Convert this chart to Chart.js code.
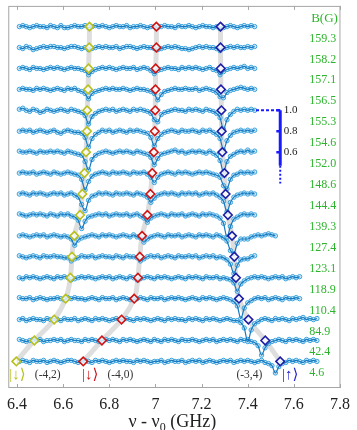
<!DOCTYPE html>
<html>
<head>
<meta charset="utf-8">
<script src="https://cdn.jsdelivr.net/npm/chart.js@4.4.1/dist/chart.umd.min.js"></script>
<style>
  html, body { margin: 0; padding: 0; background: #fff; }
  canvas { display: block; }
</style>
</head>
<body>
<canvas id="spectra" width="357" height="430"></canvas>
<script>
// Field of each spectrum, top to bottom (G)
const fieldLabels = ['159.3', '158.2', '157.1', '156.5', '155.3', '154.6', '152.0', '148.6',
  '144.4', '139.3', '127.4', '123.1', '118.9', '110.4', '84.9', '42.4', '4.6'];

// frequency grid of the measured points (GHz)
const nuStart = 6.41;
const nuStep = 0.015;

// transmission in percent, one value per grid point
const t1 = [100,101,100,99,100,101,100,100,99,101, 100,99,101,99,99,100,101,100,100,101,
  99,100,101,100,101,100,99,100,101,100, 100,101,99,100,100,101,100,99,100,100,
  99,100,101,100,100,99,101,100,100,101, 100,99,100,101,100,100,99,100,98,99,
  100,101,100,99,100,101,100,101,100];
const t2 = [100,99,101,100,98,99,100,101,100,101, 101,100,100,99,100,101,101,100,99,100,
  98,99,100,101,100,101,100,100,101,99, 100,101,101,100,99,100,101,100,100,99,
  98,99,100,101,100,101,100,99,99,98, 99,100,101,100,101,100,100,99,97,99,
  100,101,100,101,100,100,101,100,101];
const t3 = [100,101,100,99,101,100,100,99,100,101, 100,101,100,99,100,101,100,100,99,98,
  94,97,99,100,101,100,101,100,99,100, 101,100,100,101,99,100,101,100,98,95,
  98,99,100,101,100,100,99,101,100,101, 100,101,100,99,100,101,99,98,94,97,
  99,100,101,100,101,102,100,101,100];
const t4 = [100,101,100,100,99,101,100,101,100,99, 100,101,100,99,101,100,101,99,98,96,
  91,96,98,99,100,101,100,101,100,100, 101,100,99,100,101,100,100,99,98,96,
  90,95,98,99,100,101,100,100,101,100, 100,101,99,100,101,100,99,97,93,92,
  97,99,100,101,102,101,100,101,100];
const t5 = [101,102,100,99,101,100,98,99,101,100, 99,100,101,100,99,101,100,99,98,95,
  87,94,97,99,100,101,100,101,99,100, 101,100,99,101,100,101,100,99,97,91,
  89,96,98,99,100,101,100,100,99,101, 100,101,100,99,101,100,99,97,93,82,
  91,96,99,101,100,101,100,101,100];
const t6 = [100,101,100,101,99,100,101,100,99,100, 101,99,98,100,101,100,99,99,98,94,
  85,93,97,99,101,100,101,99,100,101, 100,99,101,100,101,100,99,98,94,86,
  93,97,99,100,101,100,99,101,100,100, 101,100,99,101,100,101,99,97,93,82,
  91,96,99,100,101,100,101,100,101];
const t7 = [101,100,100,101,100,99,101,100,100,101, 100,101,100,99,101,100,99,98,97,91,
  83,93,97,99,100,101,100,99,100,101, 100,101,100,99,101,100,99,98,95,88,
  94,98,99,100,101,102,100,101,99,100, 101,100,101,100,99,101,99,97,92,81,
  91,96,98,100,101,100,102,100,101];
const t8 = [100,101,100,100,101,99,100,101,100,99, 101,100,99,100,101,100,99,98,94,84,
  92,97,99,100,101,100,99,101,100,100, 101,100,99,101,100,100,101,99,96,91,
  96,99,100,101,100,99,101,100,101,100, 99,100,101,100,101,100,99,98,96,88,
  85,94,98,99,101,100,101,100,101];
const t9 = [100,101,100,99,101,100,101,100,99,100, 101,100,101,99,100,101,99,97,90,84,
  94,98,99,101,100,101,100,99,101,100, 100,101,100,99,101,100,99,97,92,96,
  99,100,101,100,101,100,99,101,100,101, 100,101,99,100,101,100,101,99,97,93,
  83,92,97,99,100,101,100,101,100];
const t10 = [101,100,99,100,101,100,101,100,99,101, 100,99,101,100,101,99,98,95,87,94,
  98,99,100,101,100,101,99,100,101,100, 100,101,99,100,101,99,97,93,97,99,
  100,101,100,99,101,100,100,101,99,100, 101,100,99,101,100,101,100,99,97,92,
  79,89,96,98,100,101,100,101,100];
const t11 = [100,101,100,99,100,101,100,101,99,100, 101,100,99,100,99,97,91,96,98,99,
  100,101,100,99,101,100,101,100,99,100, 101,100,99,101,99,98,94,97,99,100,
  101,100,99,101,100,100,101,99,100,101, 100,99,101,100,101,100,99,101,100,98,
  95,86,83,93,97,97,97,99,100,101, 100,101,102,101,100];
const t12 = [101,100,99,100,101,100,99,101,100,100, 101,100,100,99,99,96,98,99,101,100,
  100,101,99,100,101,100,100,99,101,100, 99,101,100,100,99,96,98,100,101,100,
  101,99,100,101,100,99,101,100,100,101, 100,101,99,100,101,100,101,99,100,99,
  97,93,84,92,97,98,98,100,101];
const t13 = [100,99,101,100,101,100,99,100,101,100, 99,101,100,101,100,98,99,100,101,100,
  101,100,99,100,101,100,101,99,100,101, 100,99,101,100,98,99,100,101,100,99,
  101,100,101,100,99,100,101,100,99,101, 100,101,100,99,101,100,100,101,99,100,
  99,98,95,87,94,97,99,100,101,100, 101,100,99,100,101,100,101,99,100,101,
  100,101];
const t14 = [101,100,100,101,99,100,101,100,99,100, 100,101,100,99,101,100,101,100,100,99,
  100,101,100,99,101,100,100,101,99,100, 101,100,99,99,100,101,100,99,101,100,
  100,101,99,100,101,100,101,100,99,100, 101,100,99,101,100,101,100,99,100,101,
  100,99,97,93,81,91,96,98,100,101, 100,101,99,100,101,100,99,101,100,100,
  101,100];
const t15 = [100,101,99,100,101,100,100,99,101,100, 101,100,99,101,100,100,101,99,100,101,
  100,99,101,100,101,100,99,100,101,100, 100,101,100,99,101,100,101,100,99,100,
  101,100,99,101,100,101,100,100,99,101, 100,101,100,99,101,100,101,100,99,100,
  101,100,99,99,97,92,79,90,96,98, 100,101,100,99,101,100,101,100,99,101,
  100,101,102,100,101,100,101];
const t16 = [101,100,99,100,101,100,101,99,100,100, 101,100,101,99,100,101,100,100,99,101,
  100,101,100,99,100,101,100,101,100,99, 101,100,101,100,99,100,101,100,99,101,
  100,99,101,100,101,100,99,101,100,100, 101,100,99,100,101,100,101,99,100,101,
  100,101,100,99,101,100,101,99,98,95, 86,93,97,99,100,101,100,99,101,100,
  101,100,99,101,100,101,100];
const t17 = [100,101,100,99,101,100,100,101,99,100, 101,100,99,100,101,101,100,99,100,101,
  100,99,101,100,101,100,99,100,101,100, 101,100,100,99,101,100,101,100,99,100,
  100,101,99,100,101,100,100,101,99,100, 101,100,101,99,100,101,100,99,100,101,
  100,101,99,100,101,100,101,100,99,100, 101,99,98,96,89,95,98,99,101,100,
  101,100,99,101,100,101,100];

const traces = [t1, t2, t3, t4, t5, t6, t7, t8, t9, t10, t11, t12, t13, t14, t15, t16, t17];

// resonance positions marked on each spectrum (GHz)
const yellowNu = [6.714, 6.713, 6.710, 6.708, 6.704, 6.703, 6.699, 6.692, 6.683, 6.673,
  6.648, 6.638, 6.631, 6.611, 6.561, 6.475, 6.397];
const redNu = [7.004, 7.004, 7.001, 7.000, 6.999, 6.997, 6.993, 6.986, 6.978, 6.965,
  6.942, 6.932, 6.924, 6.908, 6.853, 6.768, 6.687];
const blueNu = [7.282, 7.282, 7.283, 7.284, 7.286, 7.287, 7.290, 7.299, 7.304, 7.314,
  7.332, 7.342, 7.349, 7.362, 7.403, 7.476, 7.541];

const tickValues = [6.4, 6.6, 6.8, 7.0, 7.2, 7.4, 7.6, 7.8];
const tickLabels = ['6.4', '6.6', '6.8', '7', '7.2', '7.4', '7.6', '7.8'];
const scaleTicks = [1.0, 0.8, 0.6];
const scaleTickLabels = ['1.0', '0.8', '0.6'];

const traceGap = 0.2;
const baseline = (i) => 1 + (4 - i) * traceGap;

const YELLOW = '#b9c01c';
const RED = '#cf1515';
const NAVY = '#1e1ea6';
const BAR = '#1a1aff';
const SERIF = '"Liberation Serif", "DejaVu Serif", serif';

const datasets = [];

// grey guides through the marked resonances
[yellowNu, redNu, blueNu].forEach((nus) => {
  datasets.push({
    data: nus.map((x, i) => ({ x, y: baseline(i) })),
    borderColor: '#dedede',
    borderWidth: 5,
    pointRadius: 0,
    tension: 0.4,
    order: 5
  });
});

// spectra: points + line
traces.forEach((vals, i) => {
  const pts = vals.map((v, k) => ({ x: nuStart + k * nuStep, y: v / 100 + (4 - i) * traceGap }));
  datasets.push({
    data: pts,
    showLine: false,
    pointRadius: 2.2,
    pointBorderWidth: 1,
    pointBorderColor: '#3ea4de',
    pointBackgroundColor: 'rgba(150,205,240,0.5)',
    order: 3
  });
  datasets.push({
    data: pts,
    borderColor: '#1679c0',
    borderWidth: 1.2,
    pointRadius: 0,
    cubicInterpolationMode: 'monotone',
    order: 2
  });
});

// diamonds
[[yellowNu, YELLOW], [redNu, RED], [blueNu, NAVY]].forEach(([nus, col]) => {
  datasets.push({
    data: nus.map((x, i) => ({ x, y: baseline(i) })),
    showLine: false,
    pointStyle: 'rectRot',
    pointRadius: 4.3,
    pointBorderWidth: 1.6,
    pointBorderColor: col,
    pointBackgroundColor: 'rgba(255,255,255,0.75)',
    order: 1
  });
});

// transmission scale bar
const barX = 7.541;
datasets.push({ data: [{ x: barX, y: 1.0 }, { x: barX, y: 0.47 }], borderColor: BAR, borderWidth: 3, pointRadius: 0, order: 0 });
datasets.push({ data: [{ x: barX, y: 0.47 }, { x: barX, y: 0.3 }], borderColor: BAR, borderWidth: 2, borderDash: [2, 2], pointRadius: 0, order: 0 });
datasets.push({ data: [{ x: 7.436, y: 1.0 }, { x: barX, y: 1.0 }], borderColor: BAR, borderWidth: 2, borderDash: [3, 2], pointRadius: 0, order: 0 });
scaleTicks.forEach((v) => {
  datasets.push({ data: [{ x: 7.524, y: v }, { x: barX, y: v }], borderColor: BAR, borderWidth: 2.5, pointRadius: 0, order: 0 });
});

const textPlugin = {
  id: 'texts',
  afterDatasetsDraw(chart) {
    const { ctx, chartArea: a } = chart;
    const x = chart.scales.x, y = chart.scales.y;
    ctx.save();
    // frame + inner ticks
    ctx.strokeStyle = '#a6a6a6';
    ctx.lineWidth = 1;
    ctx.strokeRect(a.left + 0.5, a.top + 0.5, a.right - a.left - 1, a.bottom - a.top - 1);
    tickValues.forEach((v) => {
      const px = Math.round(x.getPixelForValue(v)) + 0.5;
      ctx.beginPath();
      ctx.moveTo(px, a.top); ctx.lineTo(px, a.top + 4);
      ctx.moveTo(px, a.bottom); ctx.lineTo(px, a.bottom - 4);
      ctx.stroke();
    });

    ctx.textBaseline = 'middle';
    ctx.textAlign = 'left';
    // field values
    ctx.fillStyle = '#2db42d';
    ctx.font = '12px ' + SERIF;
    fieldLabels.forEach((t, i) => {
      ctx.fillText(t, x.getPixelForValue(7.667), y.getPixelForValue(baseline(i) - 0.113));
    });
    ctx.font = '13px ' + SERIF;
    ctx.fillText('B(G)', x.getPixelForValue(7.675), y.getPixelForValue(1.874));

    // scale bar labels
    ctx.fillStyle = '#222';
    ctx.font = '11px ' + SERIF;
    scaleTicks.forEach((v, i) => {
      ctx.fillText(scaleTickLabels[i], x.getPixelForValue(7.556), y.getPixelForValue(v));
    });

    // state labels
    const ly = y.getPixelForValue(-1.53);
    ctx.font = '15px ' + SERIF;
    ctx.fillStyle = YELLOW;
    ctx.fillText('|\u2193\u27E9', x.getPixelForValue(6.366), ly);
    ctx.fillStyle = RED;
    ctx.fillText('|\u2193\u27E9', x.getPixelForValue(6.682), ly);
    ctx.fillStyle = '#2424d0';
    ctx.fillText('|\u2191\u27E9', x.getPixelForValue(7.549), ly);
    ctx.fillStyle = '#333';
    ctx.font = '11.5px ' + SERIF;
    ctx.fillText('(-4,2)', x.getPixelForValue(6.477), ly);
    ctx.fillText('(-4,0)', x.getPixelForValue(6.792), ly);
    ctx.fillText('(-3,4)', x.getPixelForValue(7.351), ly);

    // axis title with subscript
    ctx.fillStyle = '#222';
    ctx.textBaseline = 'alphabetic';
    const big = '18px ' + SERIF, small = '12px ' + SERIF;
    ctx.font = big;
    const w1 = ctx.measureText('\u03BD - \u03BD').width;
    const w3 = ctx.measureText(' (GHz)').width;
    ctx.font = small;
    const w2 = ctx.measureText('0').width;
    let sx = (a.left + a.right) / 2 - 2 - (w1 + w2 + w3) / 2;
    const by = 427;
    ctx.font = big;
    ctx.fillText('\u03BD - \u03BD', sx, by);
    ctx.font = small;
    ctx.fillText('0', sx + w1, by + 4);
    ctx.font = big;
    ctx.fillText(' (GHz)', sx + w1 + w2, by);
    ctx.restore();
  }
};

new Chart(document.getElementById('spectra').getContext('2d'), {
  type: 'line',
  data: { datasets },
  options: {
    responsive: false,
    animation: false,
    events: [],
    layout: { padding: { left: 3, right: 12, top: 0, bottom: 0 } },
    plugins: { legend: { display: false }, tooltip: { enabled: false } },
    scales: {
      x: {
        type: 'linear',
        min: 6.362,
        max: 7.802,
        grid: { display: false, drawTicks: false },
        border: { display: false },
        afterBuildTicks: (s) => { s.ticks = tickValues.map((v) => ({ value: v })); },
        afterFit: (s) => { s.height = 42; },
        ticks: {
          padding: 7,
          color: '#222',
          maxRotation: 0,
          autoSkip: false,
          font: { family: SERIF, size: 16 },
          callback: (v, i) => tickLabels[i]
        }
      },
      y: { type: 'linear', display: false, min: -1.654, max: 1.998 }
    }
  },
  plugins: [textPlugin]
});
</script>
</body>
</html>
